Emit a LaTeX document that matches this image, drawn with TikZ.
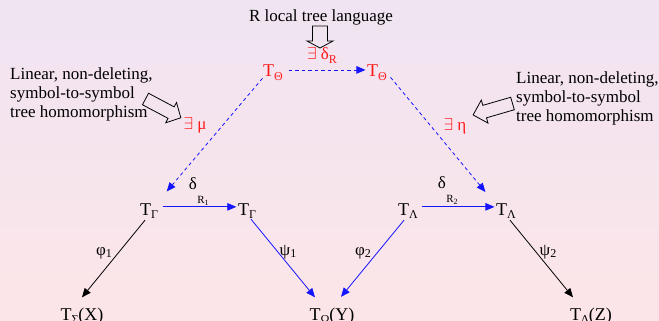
\documentclass[tikz,border=0pt]{standalone}
\usepackage{fontspec}
\setmainfont{Liberation Serif}
\usetikzlibrary{arrows.meta,calc}
\definecolor{bgtop}{RGB}{240,228,242}
\definecolor{bgbot}{RGB}{252,229,232}
\definecolor{myblue}{RGB}{20,20,255}
\definecolor{myred}{RGB}{255,25,25}
\newcommand\lsub[1]{\raisebox{-3.5pt}{\fontsize{12}{12}\selectfont #1}}
\newcommand\nsub[1]{\raisebox{-2pt}{\fontsize{12}{12}\selectfont #1}}
\newcommand\hollowarr[7]{% x y angle length shaftw headw headlen
  \draw[hollow,shift={(#1,#2)},rotate=#3]
    (0,-#5/2) -- (#4-#7,-#5/2) -- (#4-#7,-#6/2) -- (#4,0) -- (#4-#7,#6/2) -- (#4-#7,#5/2) -- (0,#5/2) -- cycle;}
\begin{document}
\begin{tikzpicture}[x=1pt,y=-1pt,
  tn/.style={inner sep=1.5pt,anchor=base,font=\fontsize{18}{20}\selectfont},
  lab/.style={inner sep=0pt,anchor=base,font=\fontsize{17}{19}\selectfont},
  txt/.style={inner sep=0pt,align=left,anchor=north west,font=\fontsize{17}{19}\selectfont},
  hollow/.style={draw=black,line width=0.8pt,line join=miter},
  tip/.style={-{Triangle[length=9pt,width=7.5pt]}},
  bl/.style={tip,draw=myblue,line width=0.8pt},
  bk/.style={tip,draw=black,line width=0.8pt},
  bd/.style={tip,draw=myblue,line width=0.8pt,dash pattern=on 3.5pt off 3pt}]
\useasboundingbox (0,0) rectangle (659,321);
\shade[top color=bgtop,bottom color=bgbot] (0,0) rectangle (659,321);

% top
\node[lab] (rl) at (321,22) {R local tree language};
\hollowarr{320}{26}{-90}{22}{15}{26}{7}
\node[lab,text=myred] (edr) at (322,60) {$\exists$ δ\lsub{R}};

\node[tn,text=myred] (thL) at (273,77) {T\lsub{Θ}};
\node[tn,text=myred] (thR) at (377,77) {T\lsub{Θ}};
\draw[bd] ($(thL.east)+(4,-3)$) -- ($(thR.west)+(0,-3)$);

% side texts
\node[txt] (ltxt) at (10,67.5) {Linear, non-deleting,\\symbol-to-symbol\\tree homomorphism};
\node[txt] (rtxt) at (516,71.5) {Linear, non-deleting,\\symbol-to-symbol\\tree homomorphism};
\hollowarr{145.5}{99}{-28}{40}{13}{23}{11}
\hollowarr{512.5}{103.5}{-163.8}{41}{13}{24}{12}
\node[lab,text=myred] (emu) at (195,129) {$\exists$ μ};
\node[lab,text=myred] (eeta) at (455,130) {$\exists$ η};

% middle row
\node[tn] (gL) at (149,215) {T\lsub{Γ}};
\node[tn] (gR) at (247,215) {T\lsub{Γ}};
\node[tn] (lL) at (408,215) {T\lsub{Λ}};
\node[tn] (lR) at (506,215) {T\lsub{Λ}};
\draw[bl] ($(gL.east)+(3,-4)$) -- ($(gR.west)+(0,-4)$);
\draw[bl] ($(lL.east)+(2,-4)$) -- ($(lR.west)+(0,-4)$);
\node[lab] (d1) at (193,189) {δ};
\node[inner sep=0pt,anchor=base,font=\fontsize{11}{11}\selectfont] (r1) at (203,203) {R\raisebox{-2pt}{\fontsize{8}{8}\selectfont 1}};
\node[lab] (d2) at (442,188) {δ};
\node[inner sep=0pt,anchor=base,font=\fontsize{11}{11}\selectfont] (r2) at (452,202) {R\raisebox{-2pt}{\fontsize{8}{8}\selectfont 2}};

\draw[bd] ($(thL.south west)+(1,-4)$) -- ($(gL.north east)+(7,-10)$);
\draw[bd] ($(thR.south east)+(2,-5)$) -- ($(lR.north west)+(-9,-9.5)$);

% bottom row
\node[tn] (sX) at (82,320) {T\lsub{Σ}(X)};
\node[tn] (oY) at (332,320) {T\lsub{Ω}(Y)};
\node[tn] (dZ) at (591,320) {T\lsub{Δ}(Z)};

\draw[bk] ($(gL.south)+(-4,0)$) -- ($(sX.north)+(0,-8.5)$);
\draw[bl] ($(gR.south)+(4,-1)$) -- ($(oY.north)+(-17,-8.5)$);
\draw[bl] ($(lL.south)+(-4,0)$) -- ($(oY.north)+(9,-9)$);
\draw[bk] ($(lR.south)+(4,0)$) -- ($(dZ.north)+(-18,-8.5)$);

\node[lab] (p1) at (104,255) {φ\nsub{1}};
\node[lab] (s1) at (288,255) {ψ\nsub{1}};
\node[lab] (p2) at (363,255) {φ\nsub{2}};
\node[lab] (s2) at (548,255) {ψ\nsub{2}};
\end{tikzpicture}
\end{document}
